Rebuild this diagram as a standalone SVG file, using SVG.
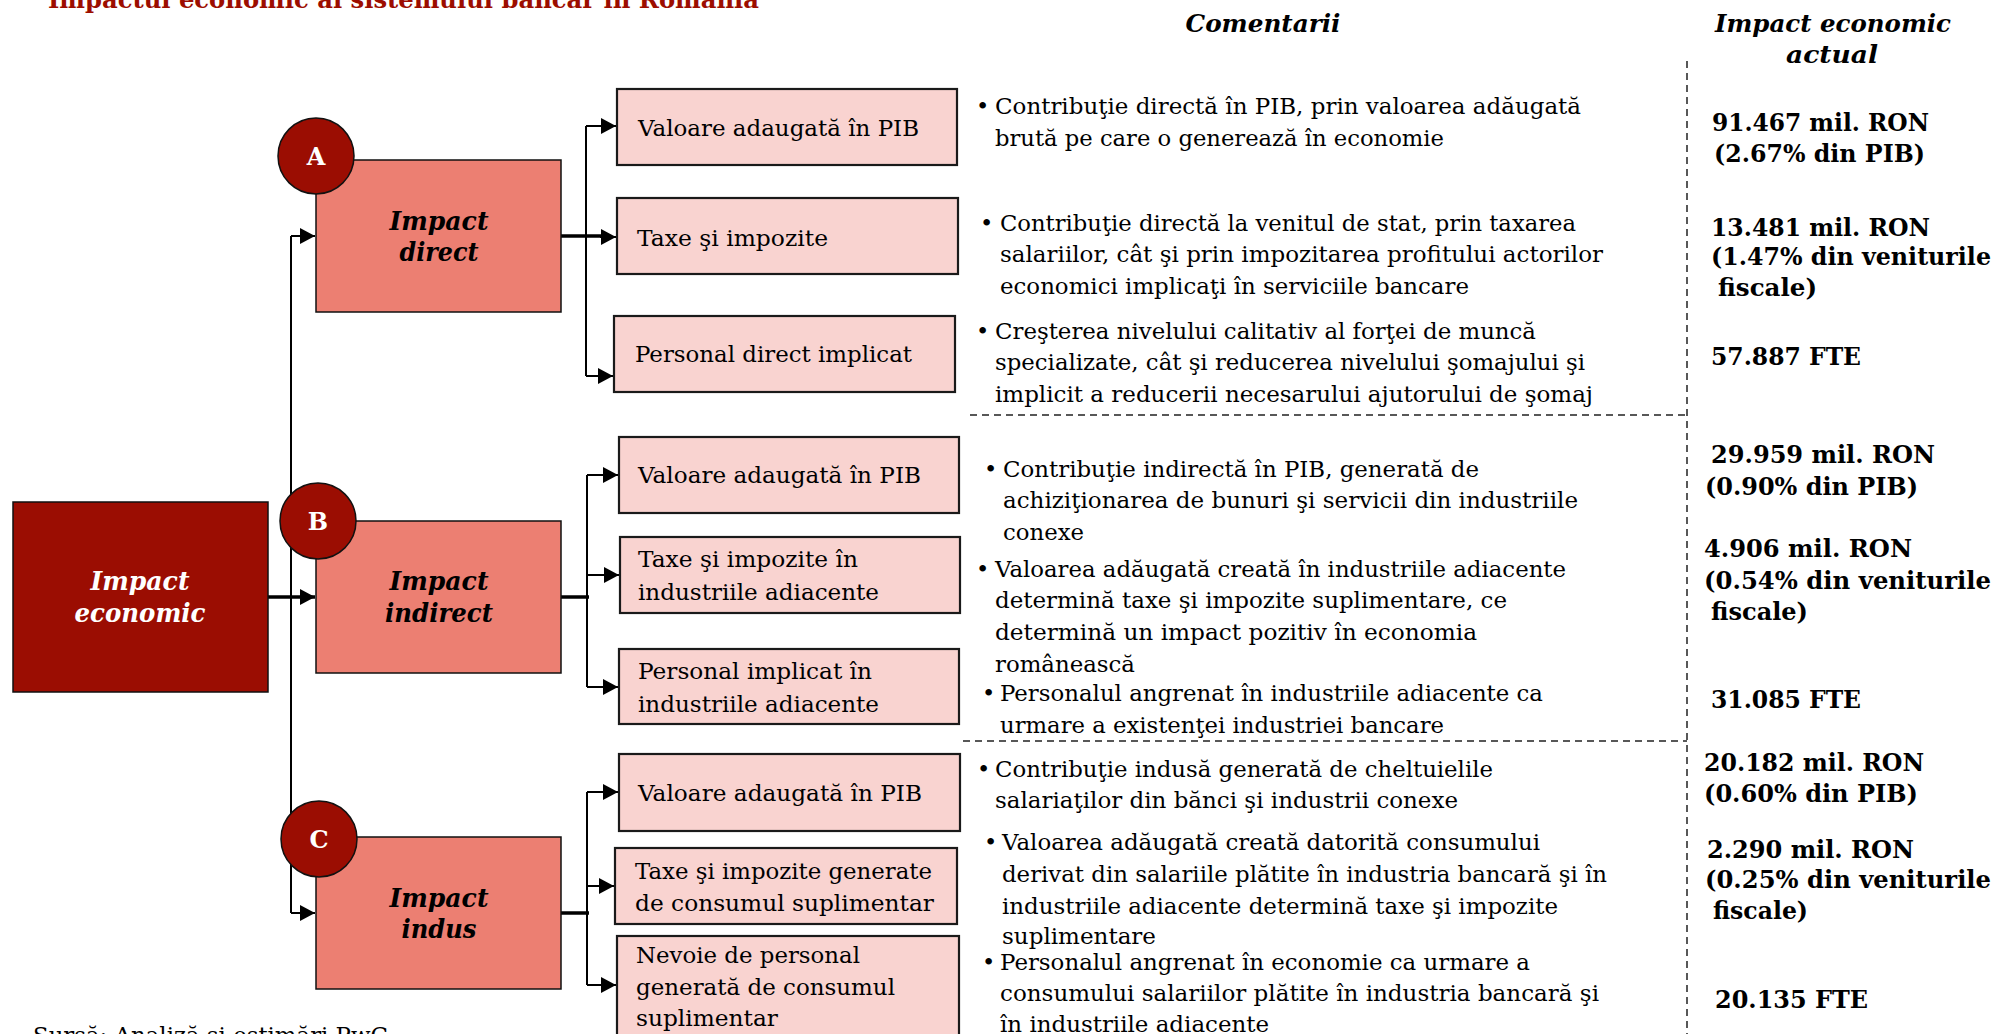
<svg xmlns="http://www.w3.org/2000/svg" width="1997" height="1034" viewBox="0 0 1997 1034">
<defs>
<style>
text{font-family:"DejaVu Serif","Liberation Serif",serif;}
.title{font-size:24px;font-weight:bold;fill:#9c0d00;}
.hdr{font-size:25px;font-weight:bold;font-style:italic;fill:#000;text-anchor:middle;}
.big{font-size:26px;font-weight:bold;font-style:italic;text-anchor:middle;}
.wht{fill:#fff;}
.blk{fill:#000;}
.letter{font-size:24px;font-weight:bold;fill:#fff;text-anchor:middle;}
.sub{font-size:22.5px;fill:#000;}
.cm{font-size:22.5px;fill:#000;}
.val{font-size:23.5px;font-weight:bold;fill:#000;}
.src{font-size:22px;fill:#000;}
.econ{fill:#9b0d02;stroke:#111;stroke-width:1.5;}
.main{fill:#ec7f72;stroke:#111;stroke-width:1.5;}
.circ{fill:#9b0d02;stroke:#111;stroke-width:1.5;}
.subbox{fill:#f9d3d0;stroke:#1a1a1a;stroke-width:2.2;}
.ln{fill:none;stroke:#000;stroke-width:2;}
.thick{fill:none;stroke:#000;stroke-width:3.5;}
.dash{fill:none;stroke:#222;stroke-width:1.5;stroke-dasharray:7 5;}
</style>
<marker id="arr" markerUnits="userSpaceOnUse" markerWidth="17" markerHeight="17" refX="15" refY="8" orient="auto">
<path d="M0,0 L15,8 L0,16 Z" fill="#000"/>
</marker>
</defs>
<rect x="0" y="0" width="1997" height="1034" fill="#fff"/>

<text class="title" x="48" y="8" textLength="711" lengthAdjust="spacingAndGlyphs">Impactul economic al sistemului bancar în România</text>
<text class="hdr" x="1263" y="32" textLength="155" lengthAdjust="spacingAndGlyphs">Comentarii</text>
<text class="hdr" x="1833" y="32" textLength="236" lengthAdjust="spacingAndGlyphs">Impact economic</text>
<text class="hdr" x="1832" y="63" textLength="92" lengthAdjust="spacingAndGlyphs">actual</text>

<g id="separators">
<path class="dash" d="M1687 61 V1034"/>
<path class="dash" d="M970 415 H1687"/>
<path class="dash" d="M963 741 H1687"/>
</g>

<g id="connectors">
<path class="ln" d="M291 236 V913"/>
<path class="ln" d="M291 236 H315" marker-end="url(#arr)"/>
<path class="thick" d="M268 597 H315" marker-end="url(#arr)"/>
<path class="ln" d="M291 913 H315" marker-end="url(#arr)"/>

<path class="thick" d="M561 236 H604"/>
<path class="ln" d="M586 126 V376"/>
<path class="ln" d="M586 126 H616" marker-end="url(#arr)"/>
<path class="ln" d="M600 237 H616" marker-end="url(#arr)"/>
<path class="ln" d="M586 376 H613" marker-end="url(#arr)"/>

<path class="thick" d="M561 597 H589"/>
<path class="ln" d="M587 475 V687"/>
<path class="ln" d="M587 475 H618" marker-end="url(#arr)"/>
<path class="ln" d="M587 575 H619" marker-end="url(#arr)"/>
<path class="ln" d="M587 687 H618" marker-end="url(#arr)"/>

<path class="thick" d="M561 913 H589"/>
<path class="ln" d="M587 792 V985"/>
<path class="ln" d="M587 792 H618" marker-end="url(#arr)"/>
<path class="ln" d="M587 886 H614" marker-end="url(#arr)"/>
<path class="ln" d="M587 985 H616" marker-end="url(#arr)"/>
</g>

<g id="impact-economic">
<rect class="econ" x="13" y="502" width="255" height="190"/>
<text class="big wht" x="140" y="590" textLength="99" lengthAdjust="spacingAndGlyphs">Impact</text>
<text class="big wht" x="140" y="622" textLength="131" lengthAdjust="spacingAndGlyphs">economic</text>
</g>

<g id="impact-direct">
<rect class="main" x="316" y="160" width="245" height="152"/>
<text class="big blk" x="439" y="230" textLength="99" lengthAdjust="spacingAndGlyphs">Impact</text>
<text class="big blk" x="439" y="261" textLength="79" lengthAdjust="spacingAndGlyphs">direct</text>
<circle class="circ" cx="316" cy="156" r="38"/>
<text class="letter" x="316" y="165">A</text>
</g>

<g id="impact-indirect">
<rect class="main" x="316" y="521" width="245" height="152"/>
<text class="big blk" x="439" y="590" textLength="99" lengthAdjust="spacingAndGlyphs">Impact</text>
<text class="big blk" x="439" y="622" textLength="108" lengthAdjust="spacingAndGlyphs">indirect</text>
<circle class="circ" cx="318" cy="521" r="38"/>
<text class="letter" x="318" y="530">B</text>
</g>

<g id="impact-indus">
<rect class="main" x="316" y="837" width="245" height="152"/>
<text class="big blk" x="439" y="907" textLength="99" lengthAdjust="spacingAndGlyphs">Impact</text>
<text class="big blk" x="439" y="938" textLength="75" lengthAdjust="spacingAndGlyphs">indus</text>
<circle class="circ" cx="319" cy="839" r="38"/>
<text class="letter" x="319" y="848">C</text>
</g>

<g id="a1">
<rect class="subbox" x="617" y="89" width="340" height="76"/>
<text class="sub" x="638" y="136" textLength="281" lengthAdjust="spacingAndGlyphs">Valoare adaugată în PIB</text>
</g>
<g id="a2">
<rect class="subbox" x="617" y="198" width="341" height="76"/>
<text class="sub" x="637" y="246" textLength="191" lengthAdjust="spacingAndGlyphs">Taxe şi impozite</text>
</g>
<g id="a3">
<rect class="subbox" x="614" y="316" width="341" height="76"/>
<text class="sub" x="635" y="362" textLength="277" lengthAdjust="spacingAndGlyphs">Personal direct implicat</text>
</g>

<g id="b1">
<rect class="subbox" x="619" y="437" width="340" height="76"/>
<text class="sub" x="638" y="483" textLength="283" lengthAdjust="spacingAndGlyphs">Valoare adaugată în PIB</text>
</g>
<g id="b2">
<rect class="subbox" x="620" y="537" width="340" height="76"/>
<text class="sub" x="638" y="567" textLength="220" lengthAdjust="spacingAndGlyphs">Taxe şi impozite în</text>
<text class="sub" x="638" y="600" textLength="241" lengthAdjust="spacingAndGlyphs">industriile adiacente</text>
</g>
<g id="b3">
<rect class="subbox" x="619" y="649" width="340" height="75"/>
<text class="sub" x="638" y="679" textLength="234" lengthAdjust="spacingAndGlyphs">Personal implicat în</text>
<text class="sub" x="638" y="712" textLength="241" lengthAdjust="spacingAndGlyphs">industriile adiacente</text>
</g>

<g id="c1">
<rect class="subbox" x="619" y="754" width="341" height="77"/>
<text class="sub" x="638" y="801" textLength="284" lengthAdjust="spacingAndGlyphs">Valoare adaugată în PIB</text>
</g>
<g id="c2">
<rect class="subbox" x="615" y="848" width="342" height="76"/>
<text class="sub" x="635" y="879" textLength="297" lengthAdjust="spacingAndGlyphs">Taxe şi impozite generate</text>
<text class="sub" x="635" y="911" textLength="299" lengthAdjust="spacingAndGlyphs">de consumul suplimentar</text>
</g>
<g id="c3">
<rect class="subbox" x="617" y="936" width="342" height="110"/>
<text class="sub" x="636" y="963" textLength="224" lengthAdjust="spacingAndGlyphs">Nevoie de personal</text>
<text class="sub" x="636" y="995" textLength="259" lengthAdjust="spacingAndGlyphs">generată de consumul</text>
<text class="sub" x="636" y="1026" textLength="142" lengthAdjust="spacingAndGlyphs">suplimentar</text>
</g>

<g id="comments">
<text class="cm" x="976" y="114">•</text>
<text class="cm" x="995" y="114" textLength="586" lengthAdjust="spacingAndGlyphs">Contribuţie directă în PIB, prin valoarea adăugată</text>
<text class="cm" x="995" y="146" textLength="449" lengthAdjust="spacingAndGlyphs">brută pe care o generează în economie</text>

<text class="cm" x="980" y="231">•</text>
<text class="cm" x="1000" y="231" textLength="576" lengthAdjust="spacingAndGlyphs">Contribuţie directă la venitul de stat, prin taxarea</text>
<text class="cm" x="1000" y="262" textLength="603" lengthAdjust="spacingAndGlyphs">salariilor, cât şi prin impozitarea profitului actorilor</text>
<text class="cm" x="1000" y="294" textLength="469" lengthAdjust="spacingAndGlyphs">economici implicaţi în serviciile bancare</text>

<text class="cm" x="976" y="339">•</text>
<text class="cm" x="995" y="339" textLength="541" lengthAdjust="spacingAndGlyphs">Creşterea nivelului calitativ al forţei de muncă</text>
<text class="cm" x="995" y="370" textLength="590" lengthAdjust="spacingAndGlyphs">specializate, cât şi reducerea nivelului şomajului şi</text>
<text class="cm" x="995" y="402" textLength="598" lengthAdjust="spacingAndGlyphs">implicit a reducerii necesarului ajutorului de şomaj</text>

<text class="cm" x="984" y="477">•</text>
<text class="cm" x="1003" y="477" textLength="476" lengthAdjust="spacingAndGlyphs">Contribuţie indirectă în PIB, generată de</text>
<text class="cm" x="1003" y="508" textLength="575" lengthAdjust="spacingAndGlyphs">achiziţionarea de bunuri şi servicii din industriile</text>
<text class="cm" x="1003" y="540" textLength="81" lengthAdjust="spacingAndGlyphs">conexe</text>

<text class="cm" x="976" y="577">•</text>
<text class="cm" x="995" y="577" textLength="571" lengthAdjust="spacingAndGlyphs">Valoarea adăugată creată în industriile adiacente</text>
<text class="cm" x="995" y="608" textLength="512" lengthAdjust="spacingAndGlyphs">determină taxe şi impozite suplimentare, ce</text>
<text class="cm" x="995" y="640" textLength="482" lengthAdjust="spacingAndGlyphs">determină un impact pozitiv în economia</text>
<text class="cm" x="995" y="672" textLength="140" lengthAdjust="spacingAndGlyphs">românească</text>

<text class="cm" x="982" y="701">•</text>
<text class="cm" x="1000" y="701" textLength="543" lengthAdjust="spacingAndGlyphs">Personalul angrenat în industriile adiacente ca</text>
<text class="cm" x="1000" y="733" textLength="444" lengthAdjust="spacingAndGlyphs">urmare a existenţei industriei bancare</text>

<text class="cm" x="977" y="777">•</text>
<text class="cm" x="995" y="777" textLength="498" lengthAdjust="spacingAndGlyphs">Contribuţie indusă generată de cheltuielile</text>
<text class="cm" x="995" y="808" textLength="463" lengthAdjust="spacingAndGlyphs">salariaţilor din bănci şi industrii conexe</text>

<text class="cm" x="984" y="850">•</text>
<text class="cm" x="1002" y="850" textLength="538" lengthAdjust="spacingAndGlyphs">Valoarea adăugată creată datorită consumului</text>
<text class="cm" x="1002" y="882" textLength="605" lengthAdjust="spacingAndGlyphs">derivat din salariile plătite în industria bancară şi în</text>
<text class="cm" x="1002" y="914" textLength="556" lengthAdjust="spacingAndGlyphs">industriile adiacente determină taxe şi impozite</text>
<text class="cm" x="1002" y="944" textLength="154" lengthAdjust="spacingAndGlyphs">suplimentare</text>

<text class="cm" x="982" y="970">•</text>
<text class="cm" x="1000" y="970" textLength="530" lengthAdjust="spacingAndGlyphs">Personalul angrenat în economie ca urmare a</text>
<text class="cm" x="1000" y="1001" textLength="599" lengthAdjust="spacingAndGlyphs">consumului salariilor plătite în industria bancară şi</text>
<text class="cm" x="1000" y="1032" textLength="269" lengthAdjust="spacingAndGlyphs">în industriile adiacente</text>
</g>

<g id="values">
<text class="val" x="1712" y="131" textLength="217" lengthAdjust="spacingAndGlyphs">91.467 mil. RON</text>
<text class="val" x="1714" y="162" textLength="211" lengthAdjust="spacingAndGlyphs">(2.67% din PIB)</text>

<text class="val" x="1711" y="236" textLength="219" lengthAdjust="spacingAndGlyphs">13.481 mil. RON</text>
<text class="val" x="1711" y="265" textLength="280" lengthAdjust="spacingAndGlyphs">(1.47% din veniturile</text>
<text class="val" x="1718" y="296" textLength="99" lengthAdjust="spacingAndGlyphs">fiscale)</text>

<text class="val" x="1711" y="365" textLength="150" lengthAdjust="spacingAndGlyphs">57.887 FTE</text>

<text class="val" x="1711" y="463" textLength="224" lengthAdjust="spacingAndGlyphs">29.959 mil. RON</text>
<text class="val" x="1705" y="495" textLength="213" lengthAdjust="spacingAndGlyphs">(0.90% din PIB)</text>

<text class="val" x="1704" y="557" textLength="208" lengthAdjust="spacingAndGlyphs">4.906 mil. RON</text>
<text class="val" x="1704" y="589" textLength="287" lengthAdjust="spacingAndGlyphs">(0.54% din veniturile</text>
<text class="val" x="1711" y="620" textLength="97" lengthAdjust="spacingAndGlyphs">fiscale)</text>

<text class="val" x="1711" y="708" textLength="150" lengthAdjust="spacingAndGlyphs">31.085 FTE</text>

<text class="val" x="1704" y="771" textLength="220" lengthAdjust="spacingAndGlyphs">20.182 mil. RON</text>
<text class="val" x="1704" y="802" textLength="214" lengthAdjust="spacingAndGlyphs">(0.60% din PIB)</text>

<text class="val" x="1707" y="858" textLength="207" lengthAdjust="spacingAndGlyphs">2.290 mil. RON</text>
<text class="val" x="1705" y="888" textLength="286" lengthAdjust="spacingAndGlyphs">(0.25% din veniturile</text>
<text class="val" x="1713" y="919" textLength="95" lengthAdjust="spacingAndGlyphs">fiscale)</text>

<text class="val" x="1715" y="1008" textLength="153" lengthAdjust="spacingAndGlyphs">20.135 FTE</text>
</g>

<text class="src" x="33" y="1043" textLength="355" lengthAdjust="spacingAndGlyphs">Sursă: Analiză şi estimări PwC</text>
</svg>
